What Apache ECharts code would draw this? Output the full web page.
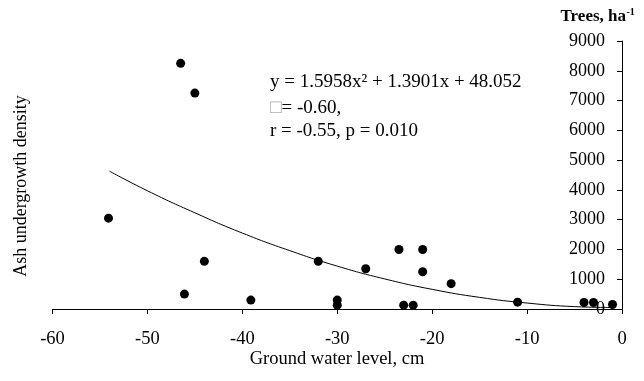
<!DOCTYPE html>
<html>
<head>
<meta charset="utf-8">
<script src="https://cdn.jsdelivr.net/npm/echarts@6/dist/echarts.min.js"></script>
<style>
  html, body { margin: 0; padding: 0; background: #fff; }
  #chart { width: 644px; height: 381px; }
</style>
</head>
<body>
<div id="chart"></div>
<script>
// Observations: ground water level (cm) vs ash undergrowth density (trees/ha)
const waterLevel = [-46.5, -45.0, -54.1, -44.0, -46.1, -39.1, -32.0, -30.0, -30.0, -27.0, -23.5, -21.0, -21.0, -23.0, -22.0, -18.0, -11.0, -4.0, -3.0, -1.0];
const density    = [8250, 7250, 3050, 1600, 500, 300, 1600, 300, 130, 1350, 2000, 2000, 1250, 130, 130, 850, 230, 220, 220, 150];

// Trend line values
const trendX = [-54, -50, -45, -40, -35, -30, -25, -20, -15, -10, -5, -1];
const trendY = [4630, 3970, 3230, 2550, 1960, 1440, 1010, 660, 390, 200, 80, 50];

// Axis ranges / ticks
const xTicks = [-60, -50, -40, -30, -20, -10, 0];
const yTicks = [0, 1000, 2000, 3000, 4000, 5000, 6000, 7000, 8000, 9000];

const eqLines = ['y = 1.5958x\u00B2 + 1.3901x + 48.052', '{g|\u25A1}= -0.60,', 'r = -0.55, p = 0.010'];

const FONT = '"Liberation Serif", "Times New Roman", serif';

const points = waterLevel.map((x, i) => [x, density[i]]);
const trend = trendX.map((x, i) => [x, trendY[i]]);

const chart = echarts.init(document.getElementById('chart'), null, { renderer: 'canvas' });

chart.setOption({
  animation: false,
  backgroundColor: '#fff',
  textStyle: { fontFamily: FONT },
  grid: { left: 52.5, right: 22, top: 41, bottom: 72, containLabel: false, outerBoundsMode: 'none' },
  xAxis: {
    type: 'value',
    min: xTicks[0], max: xTicks[xTicks.length - 1], interval: 10,
    splitLine: { show: false },
    axisLine: { show: true, onZero: false, lineStyle: { color: '#000', width: 1 } },
    axisTick: { show: true, inside: false, length: 5, lineStyle: { color: '#000' } },
    axisLabel: { color: '#000', fontSize: 18.5, fontFamily: FONT, margin: 21, formatter: v => String(v) }
  },
  yAxis: {
    type: 'value',
    position: 'right',
    min: yTicks[0], max: yTicks[yTicks.length - 1], interval: 1000,
    splitLine: { show: false },
    axisLine: { show: true, onZero: false, lineStyle: { color: '#000', width: 1 } },
    axisTick: { show: true, inside: true, length: 5, lineStyle: { color: '#000' } },
    axisLabel: { inside: true, color: '#000', fontSize: 18, fontFamily: FONT, margin: 17, formatter: v => String(v) }
  },
  series: [
    {
      type: 'line',
      data: trend,
      smooth: true,
      showSymbol: false,
      lineStyle: { color: '#000', width: 1 },
      z: 1
    },
    {
      type: 'scatter',
      data: points,
      symbol: 'circle',
      symbolSize: 9,
      itemStyle: { color: '#000', opacity: 1 },
      z: 2
    }
  ],
  graphic: [
    { type: 'text', x: 270, y: 82, style: { text: eqLines[0], font: '19px ' + FONT, fill: '#000', textVerticalAlign: 'middle' } },
    { type: 'text', x: 270, y: 108, style: { text: eqLines[1], font: '19px ' + FONT, fill: '#000', textVerticalAlign: 'middle', rich: { g: { fill: '#aaa', color: '#aaa', fontSize: 19, fontFamily: FONT } } } },
    { type: 'text', x: 270, y: 131, style: { text: eqLines[2], font: '19px ' + FONT, fill: '#000', textVerticalAlign: 'middle' } },
    { type: 'text', x: 626, y: 17, style: { text: 'Trees, ha', font: 'bold 17px ' + FONT, fill: '#000', textAlign: 'right', textVerticalAlign: 'middle' } },
    { type: 'text', x: 626.5, y: 12, style: { text: '-1', font: 'bold 10px ' + FONT, fill: '#000', textAlign: 'left', textVerticalAlign: 'middle' } },
    { type: 'text', x: 21, y: 186, rotation: Math.PI / 2, style: { text: 'Ash undergrowth density', font: '18px ' + FONT, fill: '#000', textAlign: 'center', textVerticalAlign: 'middle' } },
    { type: 'text', x: 337, y: 359, style: { text: 'Ground water level, cm', font: '18.5px ' + FONT, fill: '#000', textAlign: 'center', textVerticalAlign: 'middle' } }
  ]
});
</script>
</body>
</html>
